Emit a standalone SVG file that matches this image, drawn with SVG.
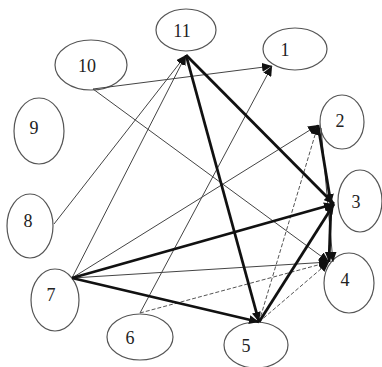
<svg xmlns="http://www.w3.org/2000/svg" width="382" height="367" viewBox="0 0 382 367">
<style>
.node ellipse{fill:#fff;stroke:#555;stroke-width:1.2}
.node text{font-family:"Liberation Serif","Times New Roman",serif;font-size:18px;fill:#222;text-anchor:middle}
.thin{stroke:#444;stroke-width:1;fill:none}
.dash{stroke:#555;stroke-width:1;stroke-dasharray:4 2;fill:none}
.thick{stroke:#111;stroke-width:2.8;fill:none}
</style>
<defs>
<marker id="arr" markerUnits="userSpaceOnUse" markerWidth="11" markerHeight="9" refX="10" refY="4.5" orient="auto">
<path d="M0,0 L10,4.5 L0,9 z" fill="#111"/>
</marker>
</defs>
<rect width="382" height="367" fill="#fff"/>
<g id="nodes">
<g id="n11" class="node"><ellipse cx="186" cy="30" rx="30" ry="21"/><text x="182" y="37">11</text></g>
<g id="n10" class="node"><ellipse cx="91" cy="65" rx="36" ry="25"/><text x="87" y="72">10</text></g>
<g id="n9" class="node"><ellipse cx="39" cy="131" rx="25" ry="33"/><text x="34" y="134">9</text></g>
<g id="n1" class="node"><ellipse cx="295" cy="49" rx="32" ry="21"/><text x="285" y="56">1</text></g>
<g id="n2" class="node"><ellipse cx="342" cy="122" rx="22" ry="27"/><text x="340" y="127">2</text></g>
<g id="n3" class="node"><ellipse cx="360" cy="201" rx="22" ry="31"/><text x="356" y="208">3</text></g>
<g id="n4" class="node"><ellipse cx="349" cy="283" rx="25" ry="30"/><text x="345" y="286">4</text></g>
<g id="n5" class="node"><ellipse cx="256" cy="345" rx="32" ry="23"/><text x="246" y="352">5</text></g>
<g id="n6" class="node"><ellipse cx="140" cy="337" rx="33" ry="23"/><text x="130" y="344">6</text></g>
<g id="n7" class="node"><ellipse cx="55" cy="300" rx="24" ry="31"/><text x="51" y="301">7</text></g>
<g id="n8" class="node"><ellipse cx="30" cy="226" rx="23" ry="32"/><text x="28" y="227">8</text></g>
</g>
<g id="edges">
<line class="thin" x1="93" y1="89" x2="272" y2="66" marker-end="url(#arr)"/>
<line class="thin" x1="93" y1="89" x2="329" y2="262" marker-end="url(#arr)"/>
<line class="thin" x1="54" y1="224" x2="186" y2="55" marker-end="url(#arr)"/>
<line class="thin" x1="72" y1="278" x2="186" y2="55" marker-end="url(#arr)"/>
<line class="thin" x1="140" y1="313" x2="272" y2="66" marker-end="url(#arr)"/>
<line class="dash" x1="140" y1="313" x2="329" y2="262" marker-end="url(#arr)"/>
<line class="thin" x1="72" y1="278" x2="318" y2="125" marker-end="url(#arr)"/>
<line class="thin" x1="72" y1="278" x2="329" y2="262" marker-end="url(#arr)"/>
<line class="dash" x1="259" y1="322" x2="318" y2="125" marker-end="url(#arr)"/>
<line class="dash" x1="259" y1="322" x2="329" y2="262" marker-end="url(#arr)"/>
<line class="thin" x1="321" y1="128" x2="333" y2="262" marker-end="url(#arr)"/>
<line class="thick" x1="186" y1="55" x2="334" y2="204" marker-end="url(#arr)"/>
<line class="thick" x1="186" y1="55" x2="259" y2="322" marker-end="url(#arr)"/>
<line class="thick" x1="72" y1="278" x2="334" y2="204" marker-end="url(#arr)"/>
<line class="thick" x1="72" y1="278" x2="259" y2="322" marker-end="url(#arr)"/>
<line class="thick" x1="259" y1="322" x2="334" y2="204" marker-end="url(#arr)"/>
<line class="thick" x1="318" y1="125" x2="331" y2="204" marker-end="url(#arr)"/>
<line class="thick" x1="331" y1="204" x2="329" y2="262" marker-end="url(#arr)"/>
</g>
</svg>
